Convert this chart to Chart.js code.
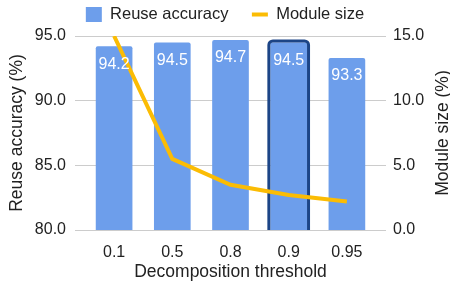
<!DOCTYPE html>
<html>
<head>
<meta charset="utf-8">
<script src="https://cdn.jsdelivr.net/npm/chart.js@4.4.1/dist/chart.umd.min.js"></script>
<style>
  html, body { margin: 0; padding: 0; background: #fff; }
  #wrap { width: 450px; height: 287px; }
</style>
</head>
<body>
<div id="wrap"><canvas id="chart"></canvas></div>
<script>
const thresholds = ['0.1', '0.5', '0.8', '0.9', '0.95'];
const reuseAccuracy = [94.2, 94.5, 94.7, 94.5, 93.3];
const moduleSize = [15.0, 5.5, 3.5, 2.7, 2.2];
const accuracyTicks = [80, 85, 90, 95];
const sizeTicks = [0, 5, 10, 15];
const highlighted = '0.9';

const FAMILY = "'Liberation Sans', Arial, sans-serif";
const TEXT = '#222222';
const GRID = '#cccccc';

// legend gets a fixed height so the plot starts where the reference does
const fixLayout = {
	id: 'fixLayout',
	beforeLayout(chart) {
		const lg = chart.legend;
		if (lg && !lg._patched) {
			const fit = lg.fit;
			lg.fit = function () { fit.call(this); this.height = 36; };
			lg._patched = true;
		}
	},
	afterLayout(chart) {
		chart.legend.top = -17.25;
	}
};

// dark outline round the selected bar, drawn before the line goes on top
const highlightBar = {
	id: 'highlightBar',
	afterDatasetDraw(chart, args) {
		if (args.index !== 0) return;
		const bar = args.meta.data[thresholds.indexOf(highlighted)];
		if (!bar) return;
		const ctx = chart.ctx;
		const half = bar.width / 2 + 1.5;
		const l = bar.x - half, r = bar.x + half, t = bar.y - 1.5;
		const b = Math.min(bar.base, chart.chartArea.bottom), rad = 4;
		ctx.save();
		ctx.strokeStyle = '#1c4587';
		ctx.lineWidth = 3;
		ctx.beginPath();
		ctx.moveTo(l, b);
		ctx.arcTo(l, t, r, t, rad);
		ctx.arcTo(r, t, r, b, rad);
		ctx.lineTo(r, b);
		ctx.stroke();
		ctx.restore();
	}
};

const barLabels = {
	id: 'barLabels',
	afterDatasetsDraw(chart) {
		const ctx = chart.ctx;
		ctx.save();
		ctx.fillStyle = '#ffffff';
		ctx.font = `16px ${FAMILY}`;
		ctx.textAlign = 'center';
		ctx.textBaseline = 'middle';
		chart.getDatasetMeta(0).data.forEach((bar, i) => {
			ctx.fillText(reuseAccuracy[i].toFixed(1), bar.x, bar.y + 18);
		});
		ctx.restore();
	}
};

// right title reads bottom-to-top like the left one
const rightTitle = {
	id: 'rightTitle',
	afterDraw(chart) {
		const s = chart.scales.y1, ctx = chart.ctx;
		ctx.save();
		ctx.translate(s.right - 6.5, (s.top + s.bottom) / 2);
		ctx.rotate(-Math.PI / 2);
		ctx.font = `17.5px ${FAMILY}`;
		ctx.fillStyle = TEXT;
		ctx.textAlign = 'center';
		ctx.textBaseline = 'middle';
		ctx.fillText('Module size (%)', 0, 0);
		ctx.restore();
	}
};

new Chart(document.getElementById('chart'), {
	type: 'bar',
	data: {
		labels: thresholds,
		datasets: [
			{
				label: 'Reuse accuracy',
				data: reuseAccuracy,
				backgroundColor: '#6d9eeb',
				borderWidth: 0,
				borderRadius: 2,
				barPercentage: 0.63,
				categoryPercentage: 1,
				pointStyle: 'rect',
				yAxisID: 'y',
				order: 1
			},
			{
				type: 'line',
				label: 'Module size',
				data: moduleSize,
				borderColor: '#fbbc04',
				backgroundColor: '#fbbc04',
				borderWidth: 4,
				pointRadius: 0,
				pointStyle: 'line',
				tension: 0,
				yAxisID: 'y1',
				order: 0
			}
		]
	},
	options: {
		responsive: true,
		maintainAspectRatio: false,
		animation: false,
		layout: { padding: 0 },
		plugins: {
			tooltip: { enabled: false },
			legend: {
				position: 'top',
				labels: {
					usePointStyle: true,
					pointStyleWidth: 16,
					boxHeight: 15,
					padding: 23.5,
					color: TEXT,
					font: { family: FAMILY, size: 16.5 },
					sort: (a, b) => a.datasetIndex - b.datasetIndex,
					generateLabels(chart) {
						const items = Chart.defaults.plugins.legend.labels.generateLabels(chart);
						items.forEach(it => { it.pointStyle = chart.data.datasets[it.datasetIndex].pointStyle; });
						return items;
					}
				}
			}
		},
		scales: {
			x: {
				grid: { display: false, drawTicks: false },
				border: { display: false },
				ticks: { color: TEXT, font: { family: FAMILY, size: 16 }, padding: 12.5 },
				title: {
					display: true,
					text: 'Decomposition threshold',
					color: TEXT,
					font: { family: FAMILY, size: 17.5 },
					padding: { top: 0, bottom: 4.5 }
				},
				afterFit(s) { s.height = 57; }
			},
			y: {
				position: 'left',
				min: accuracyTicks[0],
				max: accuracyTicks[accuracyTicks.length - 1],
				grid: { color: GRID, drawTicks: true, tickLength: 10 },
				border: { display: false },
				ticks: {
					stepSize: accuracyTicks[1] - accuracyTicks[0],
					padding: 9,
					color: TEXT,
					font: { family: FAMILY, size: 16 },
					callback: v => v.toFixed(1)
				},
				title: {
					display: true,
					text: 'Reuse accuracy (%)',
					color: TEXT,
					font: { family: FAMILY, size: 17.5 },
					padding: { top: 6.5, bottom: 0 }
				},
				afterFit(s) { s.width = 85; }
			},
			y1: {
				position: 'right',
				min: sizeTicks[0],
				max: sizeTicks[sizeTicks.length - 1],
				grid: { color: GRID, drawOnChartArea: false, drawTicks: true, tickLength: 10 },
				border: { display: false },
				ticks: {
					stepSize: sizeTicks[1] - sizeTicks[0],
					padding: 7,
					color: TEXT,
					font: { family: FAMILY, size: 16 },
					callback: v => v.toFixed(1)
				},
				afterFit(s) { s.width = 74; }
			}
		}
	},
	plugins: [fixLayout, highlightBar, barLabels, rightTitle]
});
</script>
</body>
</html>
